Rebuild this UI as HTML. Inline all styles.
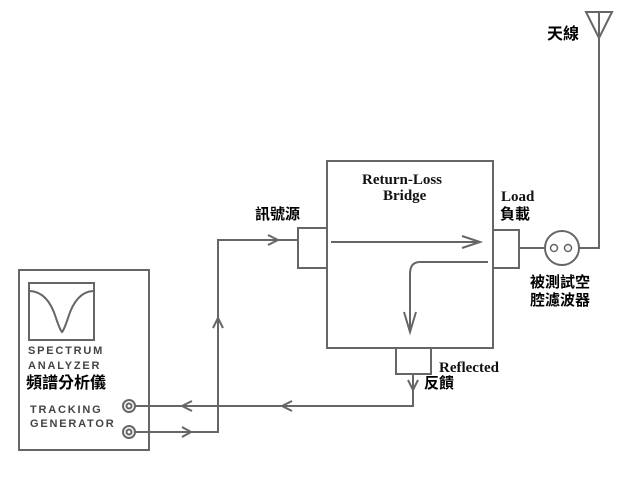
<!DOCTYPE html>
<html><head><meta charset="utf-8"><style>
body{margin:0;background:#fff;width:640px;height:480px;overflow:hidden}
svg text{font-family:"Liberation Sans","Noto Sans CJK TC",sans-serif}
</style></head><body>
<svg width="640" height="480" viewBox="0 0 640 480" xmlns="http://www.w3.org/2000/svg">
<g fill="none" stroke="#666" stroke-width="2">
<rect x="19" y="270" width="130" height="180"/>
<rect x="29" y="283" width="65" height="57"/>
<path d="M30 291 Q48 292 56 318 Q60 330 62 332 Q64 330 68 318 Q76 292 93 291"/>
<circle cx="129" cy="406" r="6"/><circle cx="129" cy="406" r="2.5"/>
<circle cx="129" cy="432" r="6"/><circle cx="129" cy="432" r="2.5"/>
<path d="M135 432 H218 V240 H298"/>
<path d="M135 406 H413 V374"/>
<path d="M182 427 l9 5 -9 5"/>
<path d="M192 401 l-10 5 10 5"/>
<path d="M292 401 l-10 5 10 5"/>
<path d="M213 328 l5 -10 5 10"/>
<path d="M268 235 l10 5 -10 5"/>
<path d="M408 380 l5 10 5 -10"/>
<rect x="327" y="161" width="166" height="187"/>
<rect x="298" y="228" width="29" height="40"/>
<rect x="493" y="230" width="26" height="38"/>
<rect x="396" y="348" width="35" height="26"/>
<path d="M331 242 H480 M462 236 l18 6 -18 6"/>
<path d="M488 262 H420 Q410 262 410 274 V332 M404 312 l6 20 6 -20"/>
<path d="M519 248 H545"/>
<circle cx="562" cy="248" r="17"/>
<circle cx="554" cy="248" r="3.5" stroke-width="1.5"/><circle cx="568" cy="248" r="3.5" stroke-width="1.5"/>
<path d="M579 248 H599 V38"/>
<path d="M586 12 H612 L599 38 Z M599 12 V38"/>
</g>
<g fill="#444" font-size="11" font-weight="bold" letter-spacing="1.8">
<text x="28" y="354">SPECTRUM</text>
<text x="28" y="369">ANALYZER</text>
<text x="30" y="413">TRACKING</text>
<text x="30" y="427">GENERATOR</text>
</g>
<g fill="#000" font-weight="bold" font-size="16">
<text x="26" y="388">頻譜分析儀</text>
<text x="547" y="39">天線</text>
<text x="255" y="219" font-size="15">訊號源</text>
<text x="500" y="219" font-size="15">負載</text>
<text x="424" y="388" font-size="15">反饋</text>
<text x="530" y="287" font-size="15">被測試空</text>
<text x="530" y="305" font-size="15">腔濾波器</text>
</g>
<g fill="#111" font-size="15" font-weight="bold">
<text x="362" y="184" style="font-family:'Liberation Serif',serif">Return-Loss</text>
<text x="383" y="200" style="font-family:'Liberation Serif',serif">Bridge</text>
<text x="501" y="201" style="font-family:'Liberation Serif',serif">Load</text>
<text x="439" y="372" style="font-family:'Liberation Serif',serif">Reflected</text>
</g>
</svg>
</body></html>
